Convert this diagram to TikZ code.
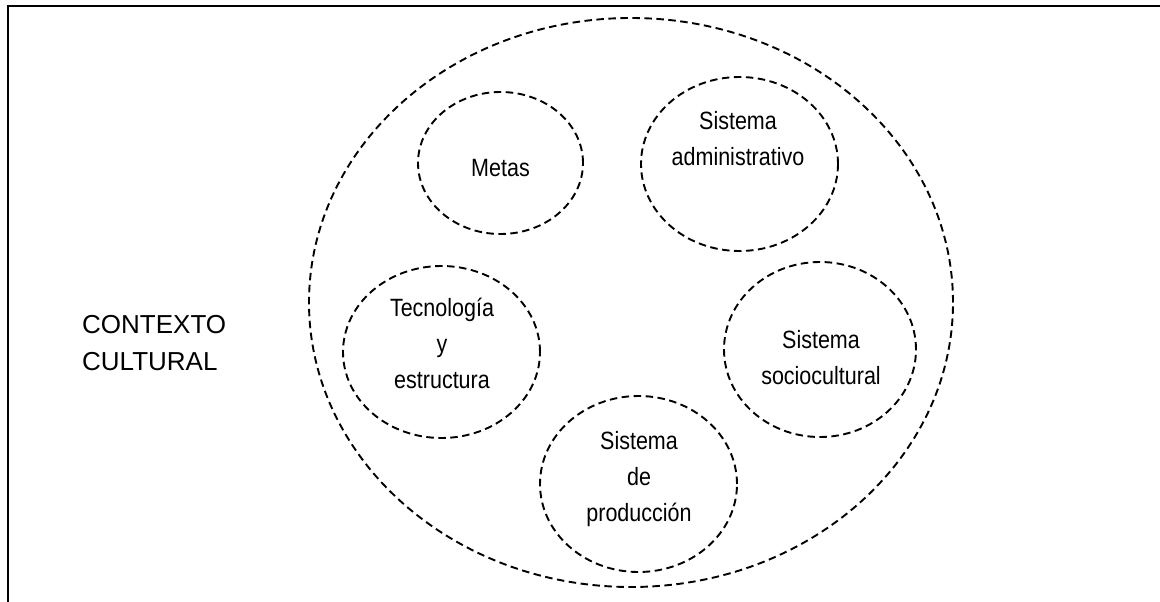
\documentclass[tikz,border=0pt]{standalone}
\usepackage{fontspec}
\setmainfont{Liberation Sans}
\newfontfamily\narrowsans[FakeStretch=0.86]{Liberation Sans}
\usetikzlibrary{shapes.geometric}
% centred lines, baseline of the box = baseline of the first line
\newcommand\stacktext[1]{\begin{tabular}[t]{@{}c@{}}#1\end{tabular}}
\begin{document}
\begin{tikzpicture}[x=1pt,y=-1pt,
  ring/.style={draw, ellipse, dash pattern=on 7.5pt off 4.5pt, line width=1.9pt, inner sep=0pt},
  lbl/.style={anchor=base, inner sep=0pt, font=\narrowsans\fontsize{25}{36}\selectfont},
  ctxlbl/.style={anchor=base west, inner sep=0pt, font=\fontsize{26}{37}\selectfont},
  frame/.style={line width=2pt}]
\useasboundingbox (0,0) rectangle (1160,602);

% open frame: top and left edges
\coordinate (ftr) at (1160,5.7);
\coordinate (ftl) at (7.7,5.7);
\coordinate (fbl) at (7.7,602);
\draw[frame] (ftr) -- (ftl) -- (fbl);

% cultural context and its subsystems
\node[ring, minimum width=644pt, minimum height=569pt] (outer) at (631,302.5) {};
\node[ring, minimum width=165pt, minimum height=142pt] (metas) at (500.5,163) {};
\node[ring, minimum width=197pt, minimum height=174pt] (admin) at (739.5,164) {};
\node[ring, minimum width=197pt, minimum height=172pt] (tecno) at (441.5,352) {};
\node[ring, minimum width=192pt, minimum height=175pt] (socio) at (820,349.5) {};
\node[ring, minimum width=197pt, minimum height=176pt] (prod) at (638.5,484) {};

% labels
\node[lbl] (metas-t) at (500.5,176) {\stacktext{Metas}};
\node[lbl] (admin-t) at (738,129) {\stacktext{Sistema\\administrativo}};
\node[lbl] (tecno-t) at (442,316) {\stacktext{Tecnología\\y\\estructura}};
\node[lbl] (socio-t) at (821,348) {\stacktext{Sistema\\sociocultural}};
\node[lbl] (prod-t) at (639,449) {\stacktext{Sistema\\de\\producción}};
\node[ctxlbl] (ctx-t) at (82,333) {\begin{tabular}[t]{@{}l@{}}CONTEXTO\\CULTURAL\end{tabular}};
\end{tikzpicture}
\end{document}
